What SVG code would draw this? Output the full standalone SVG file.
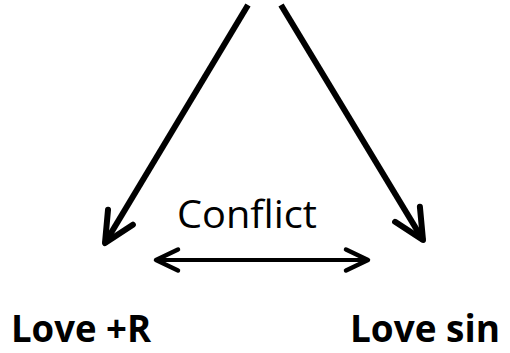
<svg xmlns="http://www.w3.org/2000/svg" width="510" height="353" viewBox="0 0 510 353">
<style>
.lbl{font-family:"Open Sans","Liberation Sans",sans-serif;fill:#000}
.b{font-weight:bold;font-size:38px}
.r{font-size:38px}
.big{fill:none;stroke:#000;stroke-width:6}
.thin{fill:none;stroke:#000;stroke-width:4}
.head{fill:none;stroke:#000;stroke-linecap:round;stroke-linejoin:round}
</style>
<defs>
<marker id="ah" markerUnits="userSpaceOnUse" viewBox="-40 -20 50 40" markerWidth="50" markerHeight="40" refX="0" refY="0" orient="auto" overflow="visible">
<path class="head" d="M -30 -14.5 L 0 0 L -30 14.5" stroke-width="6"/>
</marker>
<marker id="ah2" markerUnits="userSpaceOnUse" viewBox="-40 -20 50 40" markerWidth="50" markerHeight="40" refX="0" refY="0" orient="auto-start-reverse" overflow="visible">
<path class="head" d="M -22 -10.5 L 0 0 L -22 10.5" stroke-width="4.5"/>
</marker>
</defs>
<g id="connectors">
<line class="big" x1="248" y1="5" x2="105" y2="243" marker-end="url(#ah)"/>
<line class="big" x1="281" y1="5" x2="423" y2="240" marker-end="url(#ah)"/>
<line class="thin" x1="156" y1="260" x2="368" y2="260" marker-start="url(#ah2)" marker-end="url(#ah2)"/>
</g>
<g id="conflict"><text class="lbl r" x="177" y="228" textLength="140" lengthAdjust="spacingAndGlyphs">Conflict</text></g>
<g id="love-r"><text class="lbl b" x="11" y="342" textLength="140" lengthAdjust="spacingAndGlyphs">Love +R</text></g>
<g id="love-sin"><text class="lbl b" x="350" y="342" textLength="150" lengthAdjust="spacingAndGlyphs">Love sin</text></g>
</svg>
